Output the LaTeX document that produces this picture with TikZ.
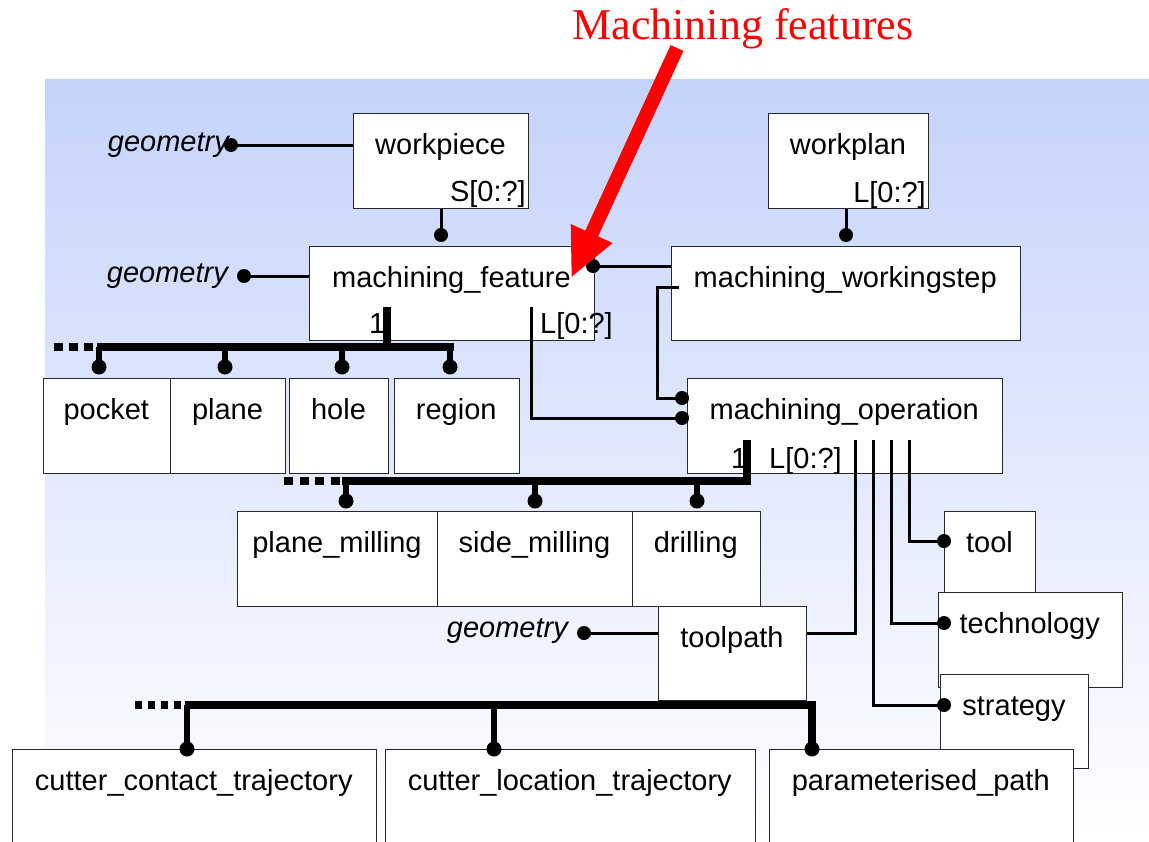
\documentclass[tikz,border=0pt]{standalone}
\usepackage{fontspec}
\setmainfont{Liberation Sans}
\newfontfamily\redserif{Liberation Serif}
\definecolor{bgtop}{RGB}{197,211,251}
\definecolor{boxline}{RGB}{40,40,40}
\newcommand\ubox[6]{%
  \node[box, minimum width={(#4-#2)*1pt}, minimum height={(#5-#3)*1pt}] (#1) at (#2,#3) {};
  \node[txt, anchor=base] (#1-t) at ({(#2+#4)/2},{#3+41}) {#6};}
\tikzset{
  box/.style={draw=boxline, line width=1.2pt, fill=white, inner sep=0pt, anchor=north west},
  txt/.style={font=\fontsize{29}{34}\selectfont, inner sep=0pt, text=black},
  gtxt/.style={font=\itshape\fontsize{29}{34}\selectfont, inner sep=0pt},
  thinline/.style={line width=3pt, line join=miter},
  barline/.style={line width=8pt, line join=miter},
  dropline/.style={line width=6pt},
  dotbar/.style={line width=8pt},
}
\begin{document}
\begin{tikzpicture}[x=1pt, y=-1pt]
\useasboundingbox (0,0) rectangle (1149,841);
% background
\shade[top color=bgtop, bottom color=white] (45,79) rectangle (1149,841);
% title
\node[text=red, font=\redserif\fontsize{44}{50}\selectfont, inner sep=0pt, anchor=base] (title) at (743,39) {Machining features};
% boxes
\ubox{pocket}{42.5}{378}{170}{473}{pocket}
\ubox{plane}{170}{378}{285}{473}{plane}
\ubox{hole}{289}{378}{388}{473}{hole}
\ubox{region}{393.5}{378}{519}{473}{region}
\ubox{wp}{353}{113}{528}{208}{workpiece}
\ubox{wplan}{768}{113}{928}{208}{workplan}
\ubox{mf}{309}{246}{594}{340}{machining\_feature}
\ubox{ws}{670.5}{246}{1020}{340}{machining\_workingstep}
\ubox{mo}{686.5}{378}{1002}{473}{machining\_operation}
\ubox{pm}{237}{511}{437}{606}{plane\_milling}
\ubox{sm}{437}{511}{632}{606}{side\_milling}
\ubox{dr}{632}{511}{759.5}{606}{drilling}
\ubox{tool}{944}{511}{1035}{600}{tool}
\ubox{tech}{937.5}{592}{1122}{687}{technology}
\ubox{strat}{940}{674}{1088}{768}{strategy}
\ubox{tp}{658}{606}{806}{700}{toolpath}
\ubox{cct}{11.5}{749}{376}{860}{cutter\_contact\_trajectory}
\ubox{clt}{384.5}{749}{755}{860}{cutter\_location\_trajectory}
\ubox{pp}{768.5}{749}{1073}{860}{parameterised\_path}
% multiplicity labels
\node[txt, anchor=base east] (wp-s) at (526,201) {S[0:?]};
\node[txt, anchor=base east] (wplan-l) at (926,202) {L[0:?]};
\node[txt, anchor=base west] (mf-1) at (369,333) {1};
\node[txt, anchor=base west] (mf-l) at (540,333) {L[0:?]};
\node[txt, anchor=base west] (mo-1) at (731,468) {1};
\node[txt, anchor=base west] (mo-l) at (769,468) {L[0:?]};
% geometry labels
\node[gtxt, anchor=base east] (g1) at (229,151) {geometry};
\node[gtxt, anchor=base east] (g2) at (228,282) {geometry};
\node[gtxt, anchor=base east] (g3) at (568,637) {geometry};
\coordinate (g1d) at (231,145);
\coordinate (g2d) at (244,276);
\coordinate (g3d) at (584,633);
\draw[thinline] (g1d) -- (g1d -| wp.west);
\draw[thinline] (g2d) -- (g2d -| mf.west);
\draw[thinline] (g3d) -- (g3d -| tp.west);
\fill (g1d) circle (7pt) (g2d) circle (7pt) (g3d) circle (7pt);
% workpiece -> machining_feature
\coordinate (wpd) at (441,235);
\draw[thinline] (wpd |- wp.south) -- (wpd);
\fill (wpd) circle (7pt);
% workplan -> machining_workingstep
\coordinate (wpld) at (846,235);
\draw[thinline] (wpld |- wplan.south) -- (wpld);
\fill (wpld) circle (7pt);
% machining_feature <- workingstep
\coordinate (mfd) at (593,266);
\draw[thinline] (mfd) -- (mfd -| ws.west);
\fill (mfd) circle (7pt);
% workingstep -> operation
\coordinate (wsa) at (679,287);
\coordinate (mod1) at (682,398);
\draw[thinline] (wsa) -- (657,287) -- (657,398) -- (mod1);
\fill (mod1) circle (7pt);
% feature L -> operation
\coordinate (mfl) at (531,307);
\coordinate (mod2) at (682,418);
\draw[thinline] (mfl) -- (531,418) -- (mod2);
\fill (mod2) circle (7pt);
% feature subtypes
\draw[barline] (387,307) -- (387,347);
\draw[barline] (97,347) -- (454,347);
\draw[dotbar, dash pattern=on 9pt off 6pt] (54,347) -- (97,347);
\foreach \x in {99,225,342,450}{
  \draw[dropline] (\x,347) -- (\x,367);
  \fill (\x,367) circle (7.5pt);
}
% operation subtypes
\draw[barline] (747,440) -- (747,481) -- (342,481);
\draw[dotbar, dash pattern=on 9pt off 6.5pt] (284,481) -- (342,481);
\foreach \x in {346,535,697}{
  \draw[dropline] (\x,481) -- (\x,501);
  \fill (\x,501) circle (7.5pt);
}
% operation attributes
\coordinate (toold) at (944,541);
\coordinate (techd) at (944,623);
\coordinate (stratd) at (944,705);
\draw[thinline] (909,440) -- (909,541) -- (toold);
\draw[thinline] (891,440) -- (891,623) -- (techd);
\draw[thinline] (873,440) -- (873,705) -- (stratd);
\draw[thinline] (855,440) -- (855,633) -- (855,633 -| tp.east);
\fill (toold) circle (7pt) (techd) circle (7pt) (stratd) circle (7pt);
% toolpath subtypes
\draw[barline] (185,705) -- (812,705) -- (812,745);
\draw[dotbar, dash pattern=on 7pt off 6pt] (135,705) -- (185,705);
\foreach \x in {187,494}{
  \draw[dropline] (\x,705) -- (\x,749);
}
\foreach \x in {187,494,812}{
  \fill (\x,749) circle (7.5pt);
}
% red arrow
\fill[red] (670.6,45.1) -- (683.4,50.9) -- (598.1,236.4) -- (612.7,243) -- (571.7,276.7) -- (570.7,224) -- (585.3,230.6) -- cycle;
\end{tikzpicture}
\end{document}
